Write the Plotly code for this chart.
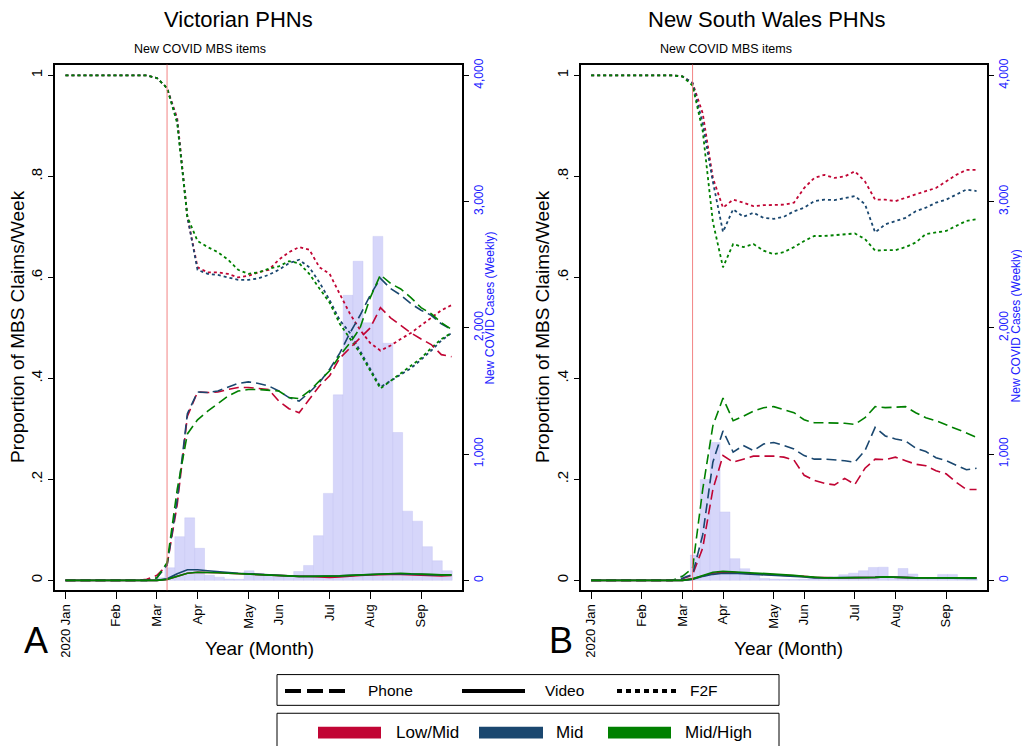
import plotly.graph_objects as go

W, H = 1022, 746
FONT = "Liberation Sans, Arial, sans-serif"

weeks = list(range(39))
tick_weeks = [0, 5, 9, 13, 18, 21, 26, 30, 35]
tick_labels = ["2020 Jan", "Feb", "Mar", "Apr", "May", "Jun", "Jul", "Aug", "Sep"]
mbs_week = 10

groups = ["Low/Mid", "Mid", "Mid/High"]
colors = {"Low/Mid": "#C10534", "Mid": "#1A476F", "Mid/High": "#008000"}

# ---------------- Victoria ----------------
vic_phone = {
    "Low/Mid": [0]*8 + [0.002, 0.01, 0.03, 0.15, 0.325, 0.373, 0.372, 0.373, 0.378, 0.382, 0.382, 0.38, 0.378,
                        0.355, 0.34, 0.332, 0.358, 0.385, 0.405, 0.44, 0.46, 0.48, 0.50, 0.54, 0.52, 0.505,
                        0.49, 0.478, 0.467, 0.447, 0.443],
    "Mid": [0]*9 + [0.005, 0.03, 0.16, 0.33, 0.373, 0.372, 0.375, 0.383, 0.39, 0.393, 0.39, 0.385, 0.375,
                    0.362, 0.355, 0.372, 0.392, 0.418, 0.45, 0.49, 0.525, 0.565, 0.598, 0.578, 0.565, 0.548,
                    0.535, 0.525, 0.508, 0.497],
    "Mid/High": [0]*9 + [0.005, 0.035, 0.18, 0.29, 0.318, 0.335, 0.35, 0.365, 0.375, 0.378, 0.378, 0.376,
                         0.375, 0.362, 0.36, 0.375, 0.395, 0.415, 0.445, 0.47, 0.50, 0.56, 0.605, 0.588, 0.577,
                         0.56, 0.54, 0.528, 0.51, 0.497],
}
vic_video = {
    "Low/Mid": [0]*10 + [0.002, 0.008, 0.014, 0.016, 0.016, 0.015, 0.014, 0.013, 0.012, 0.011, 0.01, 0.009,
                         0.008, 0.008, 0.008, 0.007, 0.006, 0.007, 0.009, 0.01, 0.011, 0.012, 0.012, 0.012,
                         0.011, 0.01, 0.009, 0.009, 0.01],
    "Mid": [0]*10 + [0.003, 0.013, 0.021, 0.021, 0.019, 0.017, 0.015, 0.014, 0.013, 0.012, 0.011, 0.009,
                     0.008, 0.008, 0.008, 0.008, 0.008, 0.009, 0.01, 0.011, 0.012, 0.013, 0.013, 0.013, 0.013,
                     0.012, 0.011, 0.011, 0.011],
    "Mid/High": [0]*10 + [0.002, 0.008, 0.014, 0.016, 0.016, 0.015, 0.014, 0.013, 0.012, 0.011, 0.01, 0.009,
                          0.008, 0.008, 0.008, 0.008, 0.008, 0.009, 0.01, 0.011, 0.012, 0.013, 0.013, 0.014,
                          0.013, 0.013, 0.012, 0.011, 0.011],
}
vic_f2f = {
    "Low/Mid": [1]*9 + [0.995, 0.975, 0.915, 0.72, 0.62, 0.61, 0.61, 0.607, 0.60, 0.603, 0.61, 0.615, 0.635,
                        0.65, 0.66, 0.655, 0.62, 0.607, 0.567, 0.528, 0.496, 0.47, 0.455, 0.465, 0.478, 0.49,
                        0.505, 0.52, 0.535, 0.545],
    "Mid": [1]*9 + [0.995, 0.975, 0.91, 0.72, 0.615, 0.607, 0.605, 0.60, 0.595, 0.595, 0.598, 0.605, 0.615,
                    0.628, 0.635, 0.62, 0.59, 0.555, 0.515, 0.49, 0.455, 0.42, 0.383, 0.395, 0.407, 0.42,
                    0.437, 0.455, 0.475, 0.49],
    "Mid/High": [1]*9 + [0.995, 0.975, 0.905, 0.72, 0.672, 0.66, 0.65, 0.635, 0.615, 0.607, 0.61, 0.617,
                         0.622, 0.632, 0.628, 0.607, 0.578, 0.55, 0.508, 0.48, 0.45, 0.415, 0.38, 0.395, 0.41,
                         0.425, 0.44, 0.46, 0.478, 0.49],
}
case_weeks = list(range(9, 39))
vic_cases = [20, 100, 346, 495, 254, 40, 25, 10, 8, 76, 55, 40, 30, 25, 70, 118, 354, 689, 1470, 2258,
             2528, 2041, 2725, 1878, 1171, 548, 469, 267, 155, 76]

# ---------------- New South Wales ----------------
nsw_phone = {
    "Low/Mid": [0]*9 + [0.003, 0.011, 0.064, 0.18, 0.247, 0.234, 0.24, 0.246, 0.246, 0.246, 0.244, 0.238,
                        0.208, 0.198, 0.192, 0.189, 0.202, 0.19, 0.222, 0.24, 0.239, 0.244, 0.237, 0.23,
                        0.227, 0.217, 0.211, 0.194, 0.18, 0.18],
    "Mid": [0]*9 + [0.004, 0.012, 0.09, 0.234, 0.296, 0.254, 0.267, 0.257, 0.27, 0.273, 0.267, 0.26, 0.247,
                    0.24, 0.24, 0.239, 0.237, 0.234, 0.257, 0.303, 0.286, 0.28, 0.276, 0.262, 0.255, 0.243,
                    0.237, 0.228, 0.219, 0.222],
    "Mid/High": [0]*9 + [0.008, 0.024, 0.18, 0.306, 0.361, 0.316, 0.325, 0.335, 0.342, 0.344, 0.338, 0.332,
                         0.318, 0.312, 0.312, 0.312, 0.311, 0.309, 0.322, 0.344, 0.342, 0.343, 0.344, 0.332,
                         0.322, 0.316, 0.308, 0.301, 0.292, 0.283],
}
nsw_video = {
    "Low/Mid": [0]*10 + [0.003, 0.009, 0.014, 0.016, 0.016, 0.014, 0.013, 0.012, 0.012, 0.011, 0.01, 0.008,
                         0.006, 0.005, 0.005, 0.005, 0.005, 0.006, 0.006, 0.007, 0.006, 0.006, 0.005, 0.005,
                         0.005, 0.005, 0.005, 0.005, 0.005],
    "Mid": [0]*10 + [0.002, 0.008, 0.012, 0.014, 0.014, 0.013, 0.012, 0.011, 0.011, 0.01, 0.009, 0.007,
                     0.005, 0.005, 0.005, 0.005, 0.005, 0.006, 0.006, 0.007, 0.006, 0.005, 0.005, 0.005,
                     0.005, 0.005, 0.004, 0.004, 0.004],
    "Mid/High": [0]*10 + [0.003, 0.01, 0.016, 0.018, 0.017, 0.015, 0.014, 0.013, 0.012, 0.011, 0.01, 0.008,
                          0.006, 0.005, 0.005, 0.005, 0.005, 0.006, 0.006, 0.007, 0.006, 0.006, 0.005, 0.005,
                          0.005, 0.005, 0.005, 0.005, 0.005],
}
nsw_f2f = {
    "Low/Mid": [1]*9 + [0.998, 0.985, 0.925, 0.797, 0.738, 0.754, 0.748, 0.741, 0.743, 0.743, 0.744, 0.748,
                        0.777, 0.797, 0.803, 0.797, 0.80, 0.81, 0.79, 0.754, 0.754, 0.751, 0.758, 0.764,
                        0.771, 0.777, 0.79, 0.803, 0.813, 0.813],
    "Mid": [1]*9 + [0.998, 0.985, 0.905, 0.79, 0.69, 0.735, 0.72, 0.728, 0.718, 0.716, 0.72, 0.731, 0.738,
                    0.751, 0.754, 0.753, 0.757, 0.761, 0.745, 0.689, 0.705, 0.712, 0.718, 0.731, 0.738, 0.748,
                    0.754, 0.764, 0.774, 0.771],
    "Mid/High": [1]*9 + [0.998, 0.98, 0.89, 0.71, 0.62, 0.666, 0.66, 0.666, 0.653, 0.646, 0.65, 0.66, 0.672,
                         0.682, 0.682, 0.684, 0.686, 0.687, 0.676, 0.653, 0.654, 0.654, 0.66, 0.669, 0.686,
                         0.689, 0.692, 0.702, 0.712, 0.715],
}
nsw_cases = [39, 200, 799, 1092, 542, 172, 92, 40, 15, 10, 8, 8, 10, 12, 15, 25, 45, 57, 76, 102, 104, 25,
             94, 50, 20, 20, 47, 47, 20, 10]


def px(x):
    return x / W


def py(y):
    return 1 - y / H


# histogram bins are 0.975 week wide on the weekly axis (bin for week 11 starts at 10.76)
def bin_center(k):
    return 11.25 + 0.975 * (k - 11)


fig = go.Figure()

modes = [("F2F", "3px,3px", 1.8), ("Phone", "10px,5px", 1.6), ("Video", "solid", 1.7)]

panels = [
    ("x", "y", "y2", vic_cases, vic_phone, vic_video, vic_f2f),
    ("x2", "y3", "y4", nsw_cases, nsw_phone, nsw_video, nsw_f2f),
]
for xa, ycases, yprop, cases, phone, video, f2f in panels:
    fig.add_trace(go.Bar(
        x=[bin_center(k) for k in case_weeks], y=cases, width=0.975,
        marker=dict(color="#D6D6FA", line=dict(color="rgba(190,190,240,0.7)", width=0.5)),
        xaxis=xa, yaxis=ycases, showlegend=False, hoverinfo="skip"))
    data = {"Phone": phone, "Video": video, "F2F": f2f}
    for mode, dash, lw in modes:
        for g in groups:
            fig.add_trace(go.Scatter(
                x=weeks, y=data[mode][g], mode="lines",
                line=dict(color=colors[g], width=lw, dash=dash),
                xaxis=xa, yaxis=yprop, showlegend=False, name=f"{mode} {g}"))

ydom = [py(589), py(59)]
xdomA = [px(55), px(461.7)]
xdomB = [px(580.7), px(986.7)]

xcommon = dict(range=[-1.03, 39.0], tickvals=tick_weeks, ticktext=tick_labels, tickangle=-90,
               ticks="outside", ticklen=7, tickwidth=1, tickcolor="black",
               showline=True, linewidth=1.6, linecolor="black", mirror=True,
               showgrid=False, zeroline=False, tickfont=dict(family=FONT, size=13, color="black"))
ycases_common = dict(range=[-78.6, 4086.4], side="right", tickvals=[0, 1000, 2000, 3000, 4000],
                     ticktext=["0", "1,000", "2,000", "3,000", "4,000"], tickangle=-90,
                     ticks="outside", ticklen=5, tickcolor="black", showline=True, linewidth=1.6,
                     linecolor="black", showgrid=False, zeroline=False,
                     tickfont=dict(family=FONT, size=12, color="#2020FF"))
yprop_common = dict(range=[-0.01965, 1.0216], side="left", tickvals=[0, 0.2, 0.4, 0.6, 0.8, 1],
                    ticktext=["0", ".2", ".4", ".6", ".8", "1"], tickangle=-90,
                    ticks="outside", ticklen=5, tickcolor="black", showline=True, linewidth=1.6,
                    linecolor="black", showgrid=False, zeroline=False,
                    tickfont=dict(family=FONT, size=15, color="black"))

fig.update_layout(
    width=W, height=H, autosize=False,
    margin=dict(l=0, r=0, t=0, b=0),
    paper_bgcolor="white", plot_bgcolor="white",
    barmode="overlay", showlegend=False,
    font=dict(family=FONT, color="black"),
    xaxis=dict(domain=xdomA, anchor="y", **xcommon),
    yaxis=dict(domain=ydom, anchor="x", **ycases_common),
    yaxis2=dict(anchor="x", overlaying="y", **yprop_common),
    xaxis2=dict(domain=xdomB, anchor="y3", **xcommon),
    yaxis3=dict(domain=ydom, anchor="x2", **ycases_common),
    yaxis4=dict(anchor="x2", overlaying="y3", **yprop_common),
)

shapes = []
annotations = []
for xa, title, tx, letter, lx, ytx, rtx, rty, xtx in [
    ("x", "Victorian PHNs", 238, "A", 35.5, 17.5, 490, 305, 259.5),
    ("x2", "New South Wales PHNs", 767, "B", 561, 542.5, 1016, 323, 788),
]:
    shapes.append(dict(type="line", xref=xa, yref=f"{'y' if xa == 'x' else 'y3'} domain",
                       x0=mbs_week, x1=mbs_week, y0=0, y1=1,
                       line=dict(color="rgba(240,110,110,0.85)", width=1), layer="above"))
    annotations += [
        dict(text=title, x=px(tx), y=py(14), xref="paper", yref="paper", showarrow=False,
             xanchor="center", yanchor="middle", font=dict(size=22, family=FONT)),
        dict(text="New COVID MBS items", x=mbs_week, xref=xa, y=py(43.5), yref="paper", xshift=33,
             showarrow=False, xanchor="center", yanchor="middle", font=dict(size=12.5, family=FONT)),
        dict(text="Proportion of MBS Claims/Week", x=px(ytx), y=py(323), xref="paper", yref="paper",
             textangle=-90, showarrow=False, xanchor="center", yanchor="middle",
             font=dict(size=19, family=FONT)),
        dict(text="New COVID Cases (Weekly)", x=px(rtx), y=py(rty), xref="paper", yref="paper",
             textangle=-90, showarrow=False, xanchor="center", yanchor="middle",
             font=dict(size=12, family=FONT, color="#2020FF")),
        dict(text="Year (Month)", x=px(xtx), y=py(648), xref="paper", yref="paper", showarrow=False,
             xanchor="center", yanchor="middle", font=dict(size=19, family=FONT)),
        dict(text=letter, x=px(lx), y=py(640), xref="paper", yref="paper", showarrow=False,
             xanchor="center", yanchor="middle", font=dict(size=36, family=FONT)),
    ]

# ---- custom legend boxes ----
shapes.append(dict(type="rect", xref="paper", yref="paper", x0=px(277), x1=px(779), y0=py(705), y1=py(674),
                   line=dict(color="black", width=1), fillcolor="white"))
shapes.append(dict(type="rect", xref="paper", yref="paper", x0=px(277), x1=px(779), y0=py(760), y1=py(713),
                   line=dict(color="black", width=1), fillcolor="white"))
for (x0, x1, dash, tx, label) in [(285, 348, "16px,6px", 366, "Phone"),
                                  (462, 525, "solid", 543, "Video"),
                                  (617, 679, "5px,4px", 688, "F2F")]:
    shapes.append(dict(type="line", xref="paper", yref="paper", x0=px(x0), x1=px(x1), y0=py(690.5),
                       y1=py(690.5), line=dict(color="black", width=4, dash=dash)))
    annotations.append(dict(text=label, x=px(tx), y=py(690), xref="paper", yref="paper", showarrow=False,
                            xanchor="left", yanchor="middle", font=dict(size=15.5, family=FONT)))
for (x0, x1, tx, g) in [(318, 381, 394, "Low/Mid"), (479, 543, 554, "Mid"), (608, 671, 683, "Mid/High")]:
    shapes.append(dict(type="rect", xref="paper", yref="paper", x0=px(x0), x1=px(x1), y0=py(738.5),
                       y1=py(726.5), line=dict(color=colors[g], width=0), fillcolor=colors[g]))
    annotations.append(dict(text=g, x=px(tx), y=py(732), xref="paper", yref="paper", showarrow=False,
                            xanchor="left", yanchor="middle", font=dict(size=17, family=FONT)))

fig.update_layout(shapes=shapes, annotations=annotations)

fig.write_html("out.html", config={"displayModeBar": False},
               post_script="document.body.style.margin='0';")
